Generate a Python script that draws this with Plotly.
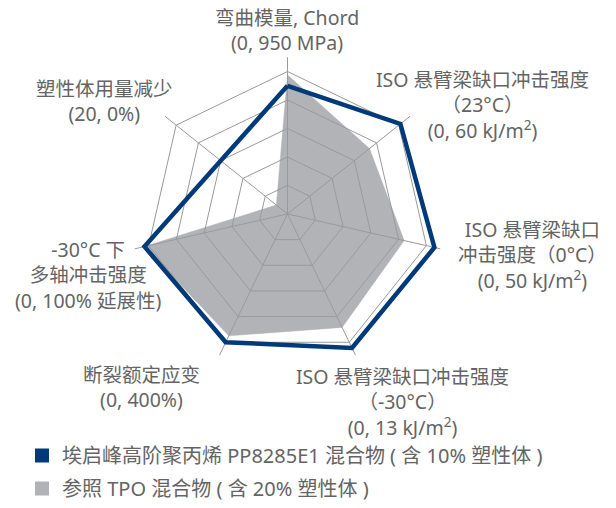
import plotly.graph_objects as go

# ---------------- data ----------------
categories = [
    "弯曲模量, Chord",
    "ISO 悬臂梁缺口冲击强度（23°C）",
    "ISO 悬臂梁缺口冲击强度（0°C）",
    "ISO 悬臂梁缺口冲击强度（-30°C）",
    "断裂额定应变",
    "-30°C 下多轴冲击强度",
    "塑性体用量减少",
]
axis_labels = [
    "弯曲模量, Chord<br>(0, 950 MPa)",
    "ISO 悬臂梁缺口冲击强度<br>（23°C）<br>(0, 60 kJ/m<sup>2</sup>)",
    "ISO 悬臂梁缺口<br>冲击强度（0°C）<br>(0, 50 kJ/m<sup>2</sup>)",
    "ISO 悬臂梁缺口冲击强度<br>（-30°C）<br>(0, 13 kJ/m<sup>2</sup>)",
    "断裂额定应变<br>(0, 400%)",
    "-30°C 下<br>多轴冲击强度<br>(0, 100% 延展性)",
    "塑性体用量减少<br>(20, 0%)",
]
# scores on the 0-5 ring scale
pp_scores = [4.5, 5.07, 5.29, 5.22, 5.0, 5.15, 3.0]
tpo_scores = [4.88, 3.68, 4.2, 4.42, 4.75, 5.15, 0.5]
ring_ticks = [1, 2, 3, 4, 5]
series_names = [
    "埃启峰高阶聚丙烯 PP8285E1 混合物 ( 含 10% 塑性体 )",
    "参照 TPO 混合物 ( 含 20% 塑性体 )",
]

# ---------------- style ----------------
W, H = 616, 508
BLUE = "#003a78"
GRAY_FILL = "#b2b3b7"
FONT = "Noto Sans, Noto Sans CJK SC"
TEXT = "#646464"
cx, cy, R = 287.5, 217.8, 159.5

def close(v):
    return list(v) + [v[0]]

fig = go.Figure()
fig.add_trace(go.Scatterpolar(
    r=close(tpo_scores), theta=close(categories), subplot="polar",
    mode="lines", fill="toself", fillcolor=GRAY_FILL,
    line=dict(color=GRAY_FILL, width=0.5), showlegend=False, hoverinfo="skip"))
fig.add_trace(go.Scatterpolar(
    r=close(pp_scores), theta=close(categories), subplot="polar2",
    mode="lines", line=dict(color=BLUE, width=4.5), showlegend=False,
    hoverinfo="skip"))
# legend entries
for name, col in zip(series_names, [BLUE, GRAY_FILL]):
    fig.add_trace(go.Scatterpolar(
        r=[None], theta=[categories[0]], subplot="polar2", mode="markers",
        marker=dict(symbol="square", size=14, color=col),
        name=name, legendgroup=name, showlegend=True))

dom_x = [(cx - R) / W, (cx + R) / W]
dom_y = [(H - cy - R) / H, (H - cy + R) / H]

def polar_cfg(show_grid, bg):
    return dict(
        domain=dict(x=dom_x, y=dom_y),
        bgcolor=bg,
        gridshape="linear",
        radialaxis=dict(range=[0, 5.5], tickvals=ring_ticks, showticklabels=False,
                        showline=False, ticks="", showgrid=show_grid,
                        gridcolor="#9a9a9c", gridwidth=1),
        angularaxis=dict(categoryarray=categories, categoryorder="array",
                         rotation=90, direction="clockwise",
                         showline=False, showticklabels=False, ticks="",
                         showgrid=show_grid, gridcolor="#9a9a9c", gridwidth=1),
    )

fig.update_layout(
    width=W, height=H,
    margin=dict(l=0, r=0, t=0, b=0),
    paper_bgcolor="white",
    polar=polar_cfg(False, "white"),
    polar2=polar_cfg(True, "rgba(0,0,0,0)"),
    font=dict(family=FONT, color=TEXT, size=19),
    showlegend=True,
    legend=dict(x=22 / W, y=1 - 444 / H, xanchor="left", yanchor="top",
                font=dict(family=FONT, size=20, color=TEXT),
                tracegroupgap=4, bgcolor="rgba(0,0,0,0)"),
)

label_pos = [(287, 31), (482.5, 107), (532, 260), (402, 409),
             (141.7, 394), (88, 280), (104, 103)]
for text, (px, py) in zip(axis_labels, label_pos):
    fig.add_annotation(text=text, x=px / W, y=1 - py / H, xref="paper", yref="paper",
                       xanchor="center", yanchor="middle", align="center",
                       showarrow=False, font=dict(family=FONT, size=19.5, color=TEXT))

fig.write_html("out.html", config={"displayModeBar": False},
               post_script="document.body.style.margin='0px';")
